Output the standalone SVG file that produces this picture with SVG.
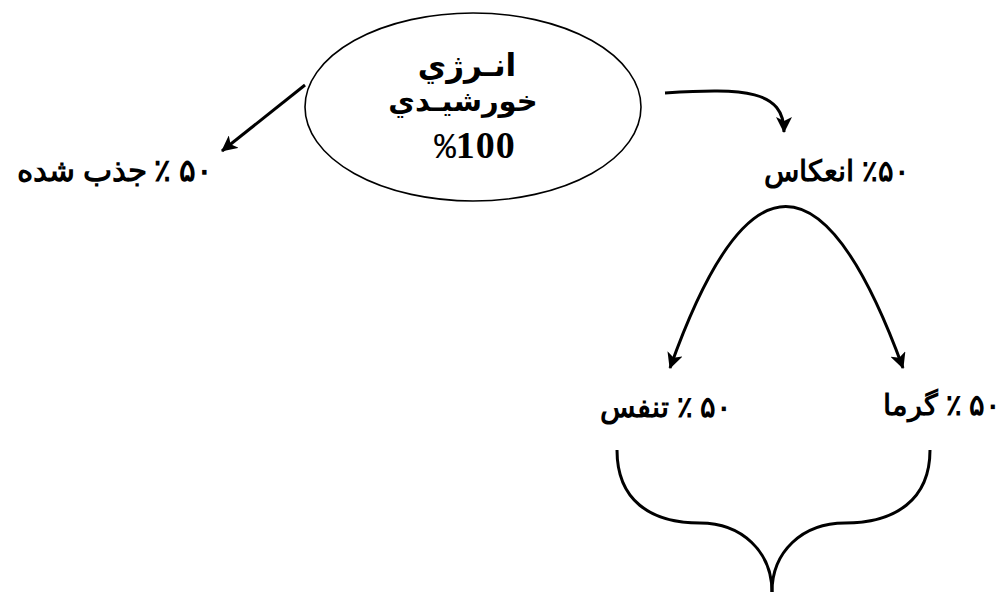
<svg xmlns="http://www.w3.org/2000/svg" width="1008" height="592" viewBox="0 0 1008 592">
<style>
.lbl{font-family:'Liberation Serif',serif;font-weight:bold;font-size:29px;fill:#000}
.ell{font-family:'DejaVu Sans',sans-serif;font-weight:bold;font-size:31px;letter-spacing:4px;fill:#000}
.pct{font-family:'Liberation Mono',monospace;font-size:36px;fill:#000}
.dig{font-family:'Liberation Serif',serif;font-weight:bold;font-size:38px;letter-spacing:1px;fill:#000}
.ln{fill:none;stroke:#000;stroke-width:3}
</style>
<defs>
<marker id="ah" viewBox="0 0 16 16" refX="15" refY="8" markerWidth="16" markerHeight="16" markerUnits="userSpaceOnUse" orient="auto-start-reverse">
<path d="M0,0 L16,8 L0,16 L4,8 z" fill="#000"/>
</marker>
</defs>
<g id="sun">
<ellipse cx="473" cy="107" rx="168" ry="94" fill="none" stroke="#000" stroke-width="1.6"/>
<text class="ell" x="467" y="76" text-anchor="middle" direction="rtl">انـرژي</text>
<text class="ell" x="463" y="111" text-anchor="middle" direction="rtl" style="letter-spacing:1px;font-size:29px">خورشيـدي</text>
<text x="475" y="158" text-anchor="middle"><tspan class="pct">%</tspan><tspan class="dig">100</tspan></text>
</g>
<g id="absorbed"><text class="lbl" x="115" y="181" text-anchor="middle" direction="rtl" style="font-size:31px">۵۰ ٪ جذب شده</text></g>
<g id="reflect"><text class="lbl" x="837" y="181" text-anchor="middle" direction="rtl">٪۵۰ انعکاس</text></g>
<g id="breath"><text class="lbl" x="666" y="417" text-anchor="middle" direction="rtl">۵۰ ٪ تنفس</text></g>
<g id="heat"><text class="lbl" x="942" y="415" text-anchor="middle" direction="rtl">۵۰ ٪ گرما</text></g>
<g id="connectors">
<path class="ln" d="M305,85 L222,151" marker-end="url(#ah)"/>
<path class="ln" d="M665,93 C745,88 784,90 784,132" marker-end="url(#ah)"/>
<path class="ln" d="M670,368 Q785,45 903,368" marker-start="url(#ah)" marker-end="url(#ah)"/>
<path class="ln" d="M617,450 C617,500 650,523 700,523 C742,523 772,552 772,592"/>
<path class="ln" d="M930,450 C930,500 895,523 845,523 C802,523 772,552 772,592"/>
</g>
</svg>
